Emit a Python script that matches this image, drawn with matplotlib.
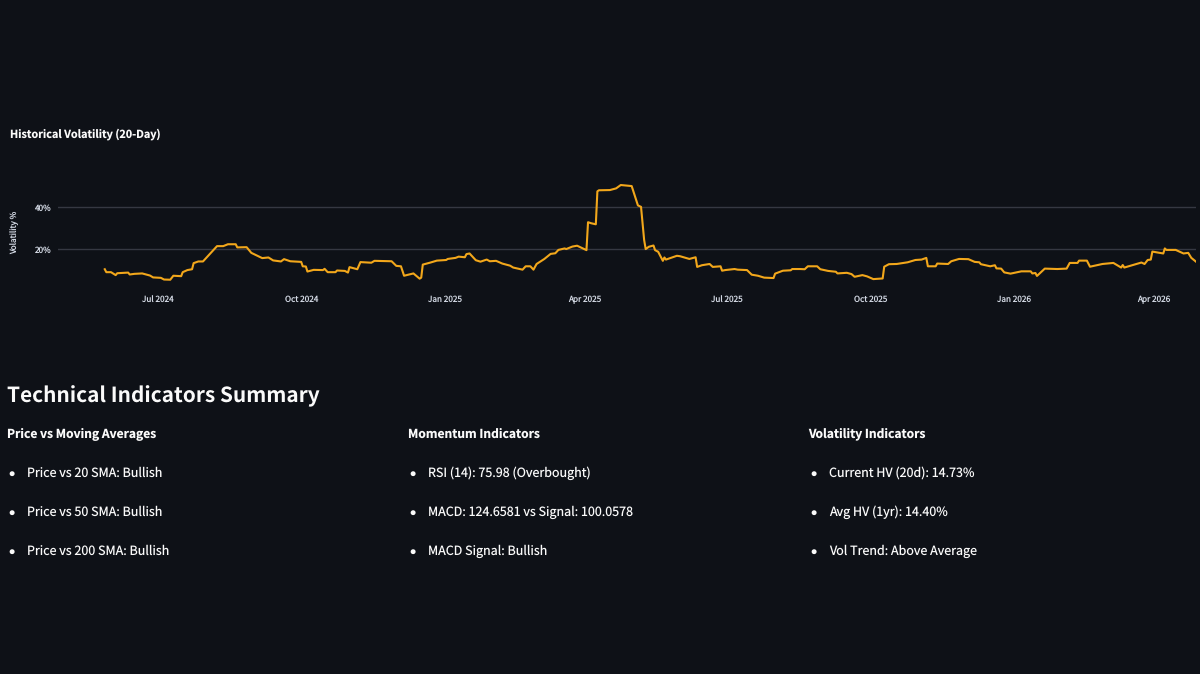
"""Historical volatility panel and technical indicator summary, dark dashboard style."""

import matplotlib
matplotlib.use("Agg")
import matplotlib.dates as mdates
import matplotlib.pyplot as plt
import pandas as pd

plt.rcParams["font.family"] = ["Noto Sans CJK SC", "DejaVu Sans"]
plt.rcParams["text.hinting"] = "no_hinting"

BG = "#0e1117"
LINE = "#f2a71b"
GRID = "#353842"
TEXT = "#fafafa"
TICK = "#d3d9e4"
W, H = 1200, 674

HV_DATES = [
    "2024-05-28", "2024-05-29", "2024-06-01", "2024-06-04", "2024-06-05", "2024-06-12", "2024-06-13",
    "2024-06-16", "2024-06-21", "2024-06-26", "2024-06-28", "2024-07-03", "2024-07-05", "2024-07-09",
    "2024-07-11", "2024-07-16", "2024-07-17", "2024-07-20", "2024-07-23", "2024-07-24", "2024-07-27",
    "2024-07-30", "2024-08-06", "2024-08-08", "2024-08-12", "2024-08-15", "2024-08-20", "2024-08-21",
    "2024-08-27", "2024-08-30", "2024-09-06", "2024-09-10", "2024-09-13", "2024-09-18", "2024-09-20",
    "2024-09-24", "2024-10-01", "2024-10-02", "2024-10-04", "2024-10-05", "2024-10-09", "2024-10-15",
    "2024-10-16", "2024-10-18", "2024-10-23", "2024-10-24", "2024-10-29", "2024-10-31", "2024-11-01",
    "2024-11-06", "2024-11-08", "2024-11-15", "2024-11-17", "2024-11-28", "2024-12-01", "2024-12-04",
    "2024-12-06", "2024-12-12", "2024-12-16", "2024-12-17", "2024-12-18", "2024-12-23", "2024-12-27",
    "2025-01-02", "2025-01-03", "2025-01-08", "2025-01-10", "2025-01-14", "2025-01-15", "2025-01-17",
    "2025-01-21", "2025-01-24", "2025-01-28", "2025-01-30", "2025-02-03", "2025-02-07", "2025-02-12",
    "2025-02-14", "2025-02-20", "2025-02-22", "2025-02-25", "2025-02-27", "2025-03-01", "2025-03-06",
    "2025-03-10", "2025-03-13", "2025-03-15", "2025-03-19", "2025-03-20", "2025-03-24", "2025-03-27",
    "2025-04-02", "2025-04-03", "2025-04-05", "2025-04-08", "2025-04-09", "2025-04-10", "2025-04-17",
    "2025-04-21", "2025-04-24", "2025-05-01", "2025-05-05", "2025-05-07", "2025-05-09", "2025-05-10",
    "2025-05-12", "2025-05-15", "2025-05-16", "2025-05-18", "2025-05-21", "2025-05-22", "2025-05-23",
    "2025-05-30", "2025-06-01", "2025-06-07", "2025-06-11", "2025-06-12", "2025-06-15", "2025-06-20",
    "2025-06-22", "2025-06-27", "2025-06-28", "2025-06-30", "2025-07-06", "2025-07-08", "2025-07-14",
    "2025-07-17", "2025-07-21", "2025-07-25", "2025-07-31", "2025-08-01", "2025-08-06", "2025-08-11",
    "2025-08-12", "2025-08-17", "2025-08-20", "2025-08-22", "2025-08-28", "2025-08-30", "2025-09-04",
    "2025-09-09", "2025-09-10", "2025-09-16", "2025-09-19", "2025-09-21", "2025-09-26", "2025-09-29",
    "2025-10-03", "2025-10-09", "2025-10-10", "2025-10-13", "2025-10-18", "2025-10-25", "2025-10-30",
    "2025-11-03", "2025-11-06", "2025-11-07", "2025-11-12", "2025-11-13", "2025-11-20", "2025-11-22",
    "2025-11-27", "2025-12-03", "2025-12-07", "2025-12-10", "2025-12-11", "2025-12-17", "2025-12-20",
    "2025-12-21", "2025-12-24", "2025-12-26", "2025-12-30", "2026-01-06", "2026-01-12", "2026-01-13",
    "2026-01-15", "2026-01-16", "2026-01-21", "2026-01-29", "2026-02-04", "2026-02-06", "2026-02-11",
    "2026-02-12", "2026-02-17", "2026-02-19", "2026-02-27", "2026-03-06", "2026-03-11", "2026-03-12",
    "2026-03-13", "2026-03-24", "2026-03-26", "2026-03-28", "2026-03-30", "2026-03-31", "2026-04-07",
    "2026-04-08", "2026-04-09", "2026-04-15", "2026-04-20", "2026-04-23", "2026-04-25", "2026-04-28",
]
HV_VALUES = [
    10.6, 9.2, 9.2, 7.8, 8.7, 9.0, 8.1,
    8.4, 8.6, 7.6, 6.7, 6.5, 5.7, 5.6,
    7.5, 7.3, 9.2, 10.2, 10.6, 13.5, 14.3,
    14.3, 20.0, 21.6, 21.6, 22.5, 22.5, 21.0,
    21.1, 18.4, 15.9, 16.2, 14.8, 14.3, 15.4,
    14.4, 14.1, 12.0, 11.9, 9.5, 10.3, 10.2,
    10.8, 9.2, 9.2, 10.0, 9.8, 9.0, 11.6,
    10.6, 14.0, 13.7, 14.6, 14.4, 12.2, 12.0,
    7.5, 8.6, 6.1, 6.6, 12.8, 13.8, 14.7,
    15.0, 15.5, 16.0, 16.6, 16.3, 17.8, 18.1,
    14.9, 14.2, 15.2, 14.4, 14.6, 13.3, 12.3,
    11.4, 10.4, 12.0, 12.0, 10.4, 13.1, 15.5,
    17.9, 18.2, 19.8, 20.5, 20.2, 21.4, 21.8,
    19.7, 33.0, 32.5, 32.0, 47.7, 48.2, 48.3,
    49.1, 50.7, 50.2, 41.0, 40.3, 24.5, 20.2,
    21.3, 21.9, 19.7, 18.9, 14.6, 16.2, 15.2,
    17.0, 16.8, 15.5, 16.3, 11.7, 12.5, 13.1,
    11.7, 12.0, 9.9, 10.2, 10.7, 10.4, 10.2,
    8.0, 7.5, 6.6, 6.4, 8.5, 9.9, 10.1,
    10.7, 10.7, 10.6, 12.0, 12.0, 10.6, 9.8,
    9.4, 8.6, 8.9, 8.3, 7.0, 7.8, 7.2,
    5.9, 6.2, 11.8, 13.0, 13.1, 13.9, 15.0,
    15.2, 16.0, 12.0, 12.0, 13.3, 13.1, 14.4,
    15.5, 15.4, 14.1, 13.9, 13.0, 12.0, 12.5,
    11.0, 10.9, 9.1, 8.5, 9.6, 9.6, 8.6,
    8.8, 7.4, 10.9, 10.7, 10.9, 13.6, 13.6,
    14.7, 14.7, 11.8, 13.1, 13.6, 11.4, 12.6,
    11.4, 13.8, 13.1, 15.0, 15.2, 19.0, 18.1,
    20.5, 19.8, 19.8, 18.1, 18.4, 16.0, 14.2,
]

Y_TICKS = [20, 40]
X_TICKS = ["2024-07-01", "2024-10-01", "2025-01-01", "2025-04-01",
           "2025-07-01", "2025-10-01", "2026-01-01", "2026-04-01"]

COLUMN_HEADS = ["Price vs Moving Averages", "Momentum Indicators", "Volatility Indicators"]
COLUMN_ITEMS = [
    ["Price vs 20 SMA: Bullish", "Price vs 50 SMA: Bullish", "Price vs 200 SMA: Bullish"],
    ["RSI (14): 75.98 (Overbought)", "MACD: 124.6581 vs Signal: 100.0578", "MACD Signal: Bullish"],
    ["Current HV (20d): 14.73%", "Avg HV (1yr): 14.40%", "Vol Trend: Above Average"],
]
COLUMN_X = [7, 408, 808.6]
ITEM_BASELINE = [476.5, 515.5, 554.5]


def put_text(fig, x, y, s, **kw):
    fig.text(x / W, 1 - y / H, s, va="baseline", **kw)


def main() -> None:
    fig = plt.figure(figsize=(W / 100, H / 100), dpi=100, facecolor=BG)
    ax = fig.add_axes([58 / W, 1 - 287 / H, 1138 / W, 115 / H], facecolor=BG)

    dates = pd.to_datetime(HV_DATES)
    ax.plot(dates, HV_VALUES, color=LINE, lw=1.5, solid_joinstyle="round", zorder=3)

    ax.set_xlim(mdates.datestr2num("2024-04-28"), mdates.datestr2num("2026-04-28"))
    ax.set_ylim(2.14, 56.9)
    ax.set_yticks(Y_TICKS)
    ax.set_yticklabels([f"{v}%" for v in Y_TICKS])
    ax.set_xticks(pd.to_datetime(X_TICKS))
    ax.xaxis.set_major_formatter(mdates.DateFormatter("%b %Y"))
    ax.tick_params(axis="both", length=0, colors=TICK, labelsize=5.9)
    ax.tick_params(axis="x", pad=10.8)
    ax.tick_params(axis="y", pad=5)
    for label in ax.get_xticklabels():
        label.set_verticalalignment("baseline")
    ax.grid(axis="y", color=GRID, lw=1.0)
    ax.set_axisbelow(True)
    for spine in ax.spines.values():
        spine.set_visible(False)

    fig.text(15 / W, 1 - 232.5 / H, "Volatility %", color=TICK, fontsize=5.9,
             rotation=90, ha="center", va="center")
    put_text(fig, 10, 137.5, "Historical Volatility (20-Day)", color=TEXT, fontsize=7.8, fontweight="bold")
    put_text(fig, 7, 402, "Technical Indicators Summary", color=TEXT, fontsize=15.0, fontweight="bold")

    for x0, head, items in zip(COLUMN_X, COLUMN_HEADS, COLUMN_ITEMS):
        put_text(fig, x0, 437.5, head, color=TEXT, fontsize=8.7, fontweight="bold")
        for y, item in zip(ITEM_BASELINE, items):
            put_text(fig, x0 + 5, y + 3.5, "\u2022", color=TEXT, fontsize=12.5, ha="center",
                     family="DejaVu Sans")
            put_text(fig, x0 + 20.5, y, item, color=TEXT, fontsize=9.0)

    fig.savefig("out.png", dpi=100, facecolor=BG)
    plt.close(fig)


if __name__ == "__main__":
    main()
